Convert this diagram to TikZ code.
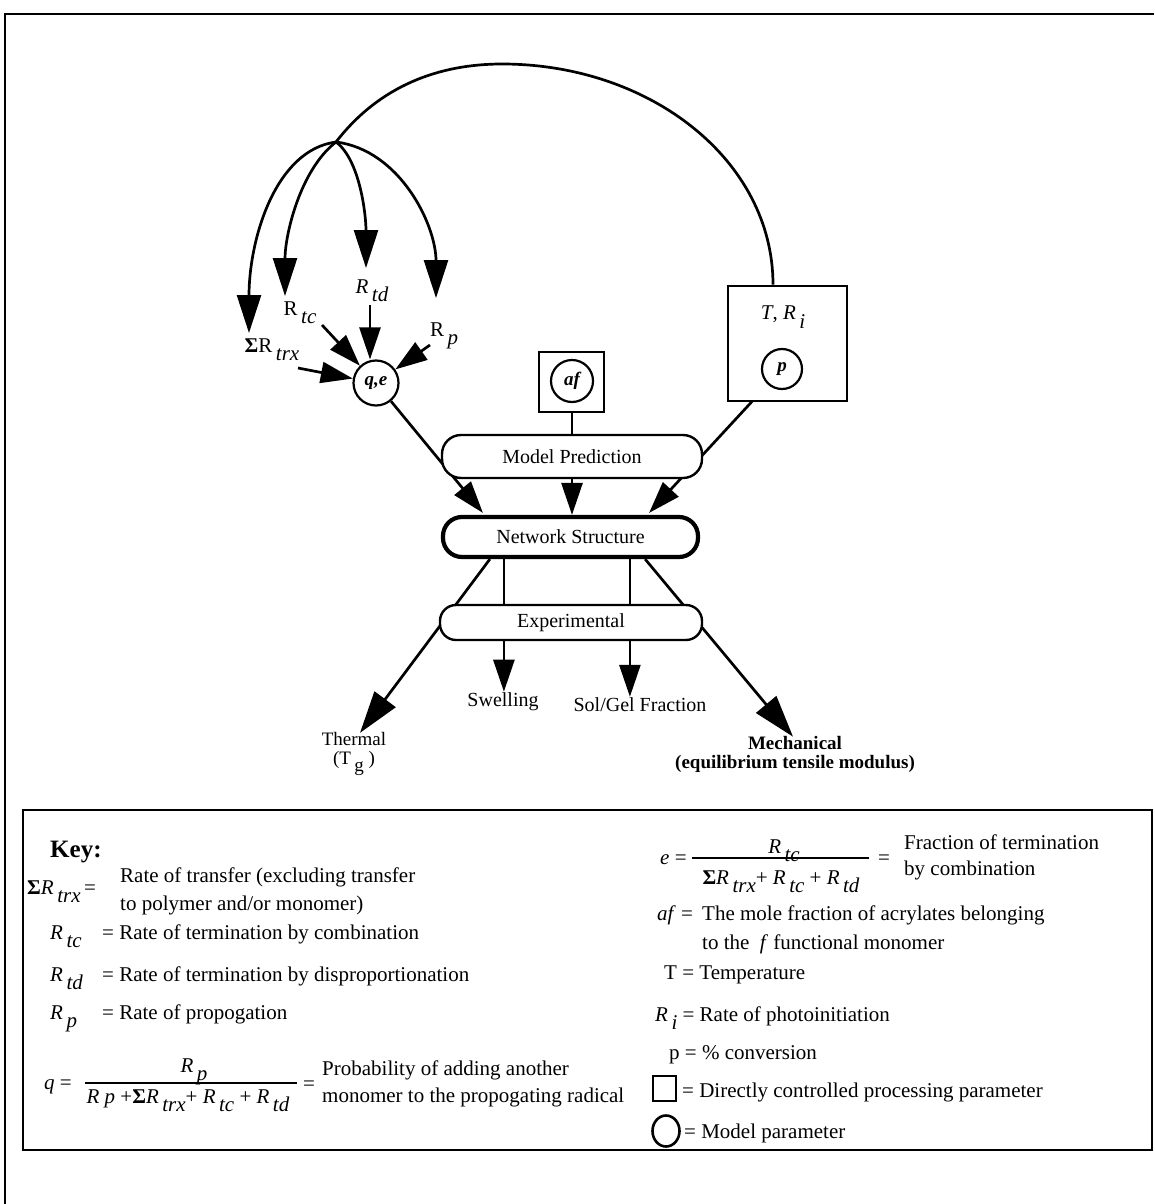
\documentclass[tikz,border=0pt]{standalone}
\usepackage{fontspec}
\setmainfont{Liberation Serif}
\usetikzlibrary{arrows.meta,calc,shapes.geometric}
\pgfdeclarelayer{bg}
\pgfsetlayers{bg,main}
\newcommand\lsub[1]{\raisebox{-0.4em}{#1}}
\begin{document}
\begin{tikzpicture}[x=1pt,y=-1pt,
  font=\fontsize{20}{22}\selectfont,
  ln/.style={line width=2.7pt},
  arr/.style={ln,-{Triangle[length=32pt,width=21pt]}},
  sarr/.style={ln,-{Triangle[length=32pt,width=21pt]}},
  bigarr/.style={ln,-{Triangle[length=42pt,width=26pt]}},
  curv/.style={ln,-{Triangle[length=38pt,width=24pt]}},
  pill/.style={draw,line width=2.4pt,fill=white,rounded corners=19pt,inner sep=0pt},
  circ/.style={circle,draw,line width=2.2pt,fill=white,inner sep=0pt,font=\bfseries\itshape\fontsize{19}{22}\selectfont},
  sqbox/.style={draw,line width=2.6pt,fill=white,inner sep=0pt},
  lbl/.style={inner sep=1pt},
  keyt/.style={inner sep=0pt,anchor=base west,font=\fontsize{21}{25}\selectfont},
  keyc/.style={inner sep=0pt,anchor=base,font=\fontsize{21}{25}\selectfont}
]
\useasboundingbox (0,0) rectangle (1154,1204);
% outer frame
\draw[line width=2pt] (5,1204) -- (5,14) -- (1154,14);

% ---------- upper diagram ----------
\coordinate (br) at (336,142);
\node[sqbox,minimum width=119pt,minimum height=115pt] (tr) at (787.5,343.5) {};
\node[lbl,font=\fontsize{21}{22}\selectfont] (trl) at (783,317) {\textit{T}, \textit{R}\lsub{\,\textit{i}}};
\node[circ,minimum size=40pt] (p) at (782,369) {p};
\node[sqbox,minimum width=65pt,minimum height=60pt] (afb) at (571.5,382) {};
\node[circ,minimum size=42pt] (af) at (572,381) {af};
\node[circ,minimum size=45pt] (qe) at (376,383) {q,e};

\node[pill,minimum width=260pt,minimum height=43pt] (mp) at (572,456.5) {Model Prediction};
\node[pill,line width=4.2pt,minimum width=255pt,minimum height=40pt] (net) at (570.5,537) {Network Structure};
\node[pill,minimum width=262pt,minimum height=35pt,rounded corners=16pt] (exp) at (571,622.5) {Experimental};

\node[lbl,font=\fontsize{21}{22}\selectfont] (lsum) at (272,350) {\textbf{Σ}R\lsub{\,\textit{trx}}};
\node[lbl,font=\fontsize{21}{22}\selectfont] (ltc) at (300,313) {R\lsub{\,\textit{tc}}};
\node[lbl,font=\fontsize{21}{22}\selectfont] (ltd) at (372,291) {\textit{R}\lsub{\,\textit{td}}};
\node[lbl,font=\fontsize{21}{22}\selectfont] (lp) at (444,336) {R\lsub{\,\textit{p}}};

\node[lbl] (swl) at (503,702) {Swelling};
\node[lbl] (sol) at (640,705) {Sol/Gel Fraction};
\node[lbl,align=center,font=\fontsize{19}{19}\selectfont] (thm) at (354,754) {Thermal\\(T\lsub{\,g} )};
\node[lbl,align=center,font=\bfseries\fontsize{19}{19}\selectfont] (mech) at (795,754) {Mechanical\\(equilibrium tensile modulus)};

% curved arrows
\coordinate (t1) at (249,333);
\coordinate (t2) at (285,296);
\coordinate (t3) at (366,268);
\coordinate (t4) at (436,298);
\draw[ln] (br) .. controls (380,85) and (440,64) .. (502,64) .. controls (650,64) and (773,160) .. ($(tr.north)+(-14.5,0)$);
\draw[curv] (br) .. controls (275,150) and (249,240) .. (t1);
\draw[curv] (br) .. controls (300,170) and (285,235) .. (t2);
\draw[curv] (br) .. controls (360,160) and (366,215) .. (t3);
\draw[curv] (br) .. controls (400,150) and (436,225) .. (t4);

% short arrows into q,e
\coordinate (s1) at (298,368);
\coordinate (s2) at (322,325);
\coordinate (s3) at (370,305);
\coordinate (s4) at (430,345);
\draw[sarr] (s1) -- (qe);
\draw[sarr] (s2) -- (qe);
\draw[sarr] (s3) -- (s3 |- qe.north);
\draw[sarr] (s4) -- (qe);

\begin{pgfonlayer}{bg}
\draw[arr] (qe) -- ($(net.north west)+(42,-2)$);
\draw[arr] (p) -- ($(net.north east)+(-51,-2)$);
\draw[ln] (af) -- (af |- mp.north);
\draw[arr] (mp.south) -- (mp.south |- net.north);
\coordinate (v1) at ($(net.south west)+(63,0)$);
\coordinate (v2) at ($(net.south west)+(189,0)$);
\draw[ln] (v1) -- (v1 |- exp.north);
\draw[ln] (v2) -- (v2 |- exp.north);
\draw[arr] (v1 |- exp.south) -- (v1 |- swl.north);
\draw[arr] (v2 |- exp.south) -- (v2 |- sol.north);
\draw[bigarr] ($(net.south west)+(49,0)$) -- ($(thm.north)+(6,2)$);
\draw[bigarr] ($(net.south east)+(-55,0)$) -- ($(mech.north)+(-2,2)$);
\end{pgfonlayer}

% ---------- key ----------
\draw[line width=2.6pt] (23,810) rectangle (1152,1150);
\node[keyt,font=\bfseries\fontsize{25}{28}\selectfont] (key) at (50,857) {Key:};
\node[keyt] (k1) at (27,894) {\textbf{Σ}\textit{R}\lsub{\,\textit{trx}}\,=};
\node[keyt] (k1a) at (120,882) {Rate of transfer (excluding transfer};
\node[keyt] (k1b) at (120,910) {to polymer and/or monomer)};
\node[keyt] (k2) at (50,939) {\textit{R}\lsub{\,\textit{tc}}};
\node[keyt] (k2a) at (102,939) {= Rate of termination by combination};
\node[keyt] (k3) at (50,981) {\textit{R}\lsub{\,\textit{td}}};
\node[keyt] (k3a) at (102,981) {= Rate of termination by disproportionation};
\node[keyt] (k4) at (50,1019) {\textit{R}\lsub{\,\textit{p}}};
\node[keyt] (k4a) at (102,1019) {= Rate of propogation};

\node[keyt] (q) at (44,1089) {\textit{q} =};
\node[keyc] (qn) at (194,1072) {\textit{R}\lsub{\,\textit{p}}};
\draw[line width=2pt] (85,1083) -- (297,1083);
\node[keyc] (qd) at (188,1103) {\textit{R p} +\textbf{Σ}\textit{R}\lsub{\,\textit{trx}}+ \textit{R}\lsub{\,\textit{tc}} + \textit{R}\lsub{\,\textit{td}}};
\node[keyt] (qeq) at (303,1090) {=};
\node[keyt] (q1) at (322,1075) {Probability of adding another};
\node[keyt] (q2) at (322,1102) {monomer to the propogating radical};

\node[keyt] (e) at (660,864) {\textit{e} =};
\node[keyc] (en) at (784,853) {\textit{R}\lsub{\,\textit{tc}}};
\draw[line width=2pt] (692,858) -- (869,858);
\node[keyc] (ed) at (781,884) {\textbf{Σ}\textit{R}\lsub{\,\textit{trx}}+ \textit{R}\lsub{\,\textit{tc}} + \textit{R}\lsub{\,\textit{td}}};
\node[keyt] (eeq) at (878,864) {=};
\node[keyt] (e1) at (904,849) {Fraction of termination};
\node[keyt] (e2) at (904,875) {by combination};

\node[keyt] (a0) at (657,920) {\textit{af} =};
\node[keyt] (a1) at (702,920) {The mole fraction of acrylates belonging};
\node[keyt] (a2) at (702,949) {to the \ \textit{f} functional monomer};
\node[keyt] (tt) at (664,979) {T = Temperature};
\node[keyt] (ri) at (655,1021) {\textit{R}\lsub{\,\textit{i}} = Rate of photoinitiation};
\node[keyt] (pc) at (669,1059) {p = \% conversion};
\node[sqbox,minimum width=23pt,minimum height=25pt] (sq) at (664.5,1088.5) {};
\node[keyt] (sqt) at (682,1097) {= Directly controlled processing parameter};
\node[draw,ellipse,line width=2.6pt,minimum width=27pt,minimum height=31pt,inner sep=0pt] (ci) at (666,1131) {};
\node[keyt] (cit) at (684,1138) {= Model parameter};
\end{tikzpicture}
\end{document}
